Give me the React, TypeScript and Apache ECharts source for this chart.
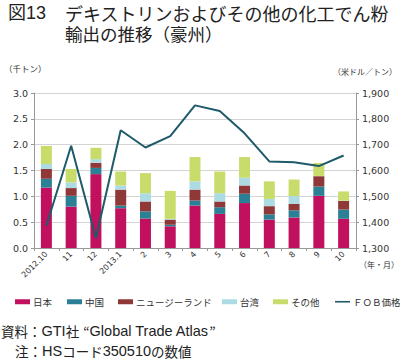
import React, { useEffect, useRef } from "react";
import * as echarts from "echarts";

const categories = ["2012.10", "11", "12", "2013.1", "2", "3", "4", "5", "6", "7", "8", "9", "10"];
const japan = [1.17, 0.8, 1.43, 0.77, 0.57, 0.42, 0.82, 0.66, 0.87, 0.55, 0.59, 1.01, 0.565];
const china = [0.17, 0.21, 0.12, 0.05, 0.14, 0.03, 0.1, 0.13, 0.18, 0.1, 0.14, 0.18, 0.18];
const newZealand = [0.19, 0.15, 0.1, 0.31, 0.19, 0.1, 0.21, 0.11, 0.16, 0.16, 0.125, 0.2, 0.165];
const taiwan = [0.095, 0.11, 0.07, 0.08, 0.16, 0.015, 0.16, 0.16, 0.15, 0.14, 0.15, 0.005, 0.005];
const others = [0.35, 0.26, 0.22, 0.27, 0.39, 0.54, 0.47, 0.42, 0.4, 0.34, 0.32, 0.25, 0.18];
const fobPrice = [1386, 1696, 1339, 1756, 1689, 1733, 1852, 1830, 1744, 1635, 1632, 1617, 1658];
const leftTicks = { min: 0, max: 3.0, interval: 0.5 };
const rightTicks = { min: 1300, max: 1900, interval: 100 };
const legendNames = ["日本", "中国", "ニュージーランド", "台湾", "その他", "ＦＯＢ価格"];

const FONT = "'Liberation Sans', 'Noto Sans CJK JP', sans-serif";
const CJK = "'Noto Sans CJK JP', sans-serif";
const LAT = "'Liberation Sans', sans-serif";

export default function App() {
  const ref = useRef<HTMLDivElement>(null);
  useEffect(() => {
    if (!ref.current) return;
    const chart = echarts.init(ref.current, undefined, { renderer: "svg" });
    const barSeries = (name: string, data: number[], color: string) => ({
      name,
      type: "bar",
      stack: "total",
      data,
      barWidth: 11,
      itemStyle: { color },
      yAxisIndex: 0,
    });
    const legendLefts = [10, 62, 113, 217, 268, 330];
    const legends = legendNames.map((n, i) => ({
      left: legendLefts[i],
      top: 292,
      itemWidth: 15,
      itemHeight: 5,
      itemGap: 0,
      textStyle: { fontSize: 9.5, color: "#333", fontFamily: CJK, padding: [0, 0, 0, -2] },
      data: [
        i === 5
          ? { name: n, icon: "path://M0,0H15V1.6H0Z" }
          : { name: n, icon: "rect" },
      ],
    }));
    const footRich = {
      c: { fontSize: 13.5, fontFamily: CJK, fill: "#222", color: "#222", lineHeight: 16 },
      l: { fontSize: 14.5, fontFamily: LAT, fill: "#222", color: "#222", lineHeight: 16 },
    };
    chart.setOption({
      animation: false,
      backgroundColor: "#fff",
      textStyle: { fontFamily: FONT },
      grid: { left: 34, right: 44, top: 93, bottom: 112 },
      graphic: [
        { type: "text", left: 8, top: 3, style: { text: "図13", fontSize: 18, lineHeight: 19, fontFamily: FONT, fill: "#222" } },
        { type: "text", left: 65, top: 3, style: { text: "デキストリンおよびその他の化工でん粉", fontSize: 18, lineHeight: 19, fontFamily: CJK, fill: "#222" } },
        { type: "text", left: 65, top: 25, style: { text: "輸出の推移（豪州）", fontSize: 17.5, lineHeight: 17, fontFamily: CJK, fill: "#222" } },
        { type: "text", left: 4, top: 64, style: { text: "（千トン）", fontSize: 8.5, fontFamily: CJK, fill: "#333" } },
        { type: "text", right: 3, top: 67, style: { text: "（米ドル／トン）", fontSize: 8, fontFamily: CJK, fill: "#333" } },
        { type: "text", left: 359, top: 260, style: { text: "（年・月）", fontSize: 8, fontFamily: CJK, fill: "#333" } },
        {
          type: "text",
          left: 1,
          top: 323,
          style: {
            text: "{c|資料：}{l|GTI}{c|社}{l| }{c|“}{l|Global Trade Atlas}{c|”}",
            rich: footRich,
          },
        },
        {
          type: "text",
          left: 15,
          top: 343,
          style: {
            text: "{c|注：}{l|HS}{c|コード}{l|350510}{c|の数値}",
            rich: footRich,
          },
        },
      ],
      legend: legends,
      xAxis: {
        type: "category",
        data: categories,
        boundaryGap: true,
        axisLine: { lineStyle: { color: "#999" } },
        axisTick: { show: true, length: 3, lineStyle: { color: "#999" } },
        axisLabel: { rotate: 45, fontSize: 8, color: "#333", margin: 5, interval: 0, fontFamily: "'DejaVu Sans', sans-serif" },
      },
      yAxis: [
        {
          type: "value",
          min: leftTicks.min,
          max: leftTicks.max,
          interval: leftTicks.interval,
          axisLine: { show: true, lineStyle: { color: "#999" } },
          axisTick: { show: true, length: 3, lineStyle: { color: "#999" } },
          axisLabel: { fontSize: 9.5, color: "#333", margin: 6, formatter: (v: number) => v.toFixed(1), fontFamily: "'DejaVu Sans', sans-serif" },
          splitLine: { show: true, lineStyle: { color: "#d4d4d4", width: 1.2 } },
        },
        {
          type: "value",
          min: rightTicks.min,
          max: rightTicks.max,
          interval: rightTicks.interval,
          position: "right",
          axisLine: { show: true, lineStyle: { color: "#999" } },
          axisTick: { show: true, length: 3, lineStyle: { color: "#999" } },
          axisLabel: {
            fontSize: 9.5,
            color: "#333",
            margin: 6,
            fontFamily: "'DejaVu Sans', sans-serif",
            formatter: (v: number) => v.toLocaleString("en-US"),
          },
          splitLine: { show: false },
        },
      ],
      series: [
        barSeries("日本", japan, "#c0105e"),
        barSeries("中国", china, "#2c8096"),
        barSeries("ニュージーランド", newZealand, "#903838"),
        barSeries("台湾", taiwan, "#acdbe4"),
        barSeries("その他", others, "#c8dc6c"),
        {
          name: "ＦＯＢ価格",
          type: "line",
          yAxisIndex: 1,
          data: fobPrice,
          symbol: "none",
          itemStyle: { color: "#1e5a6a" },
          lineStyle: { color: "#1e5a6a", width: 2 },
        },
      ],
    });
    return () => chart.dispose();
  }, []);
  return (
    <div
      ref={ref}
      style={{ position: "absolute", left: 0, top: 0, width: 400, height: 360, background: "#fff" }}
    />
  );
}
